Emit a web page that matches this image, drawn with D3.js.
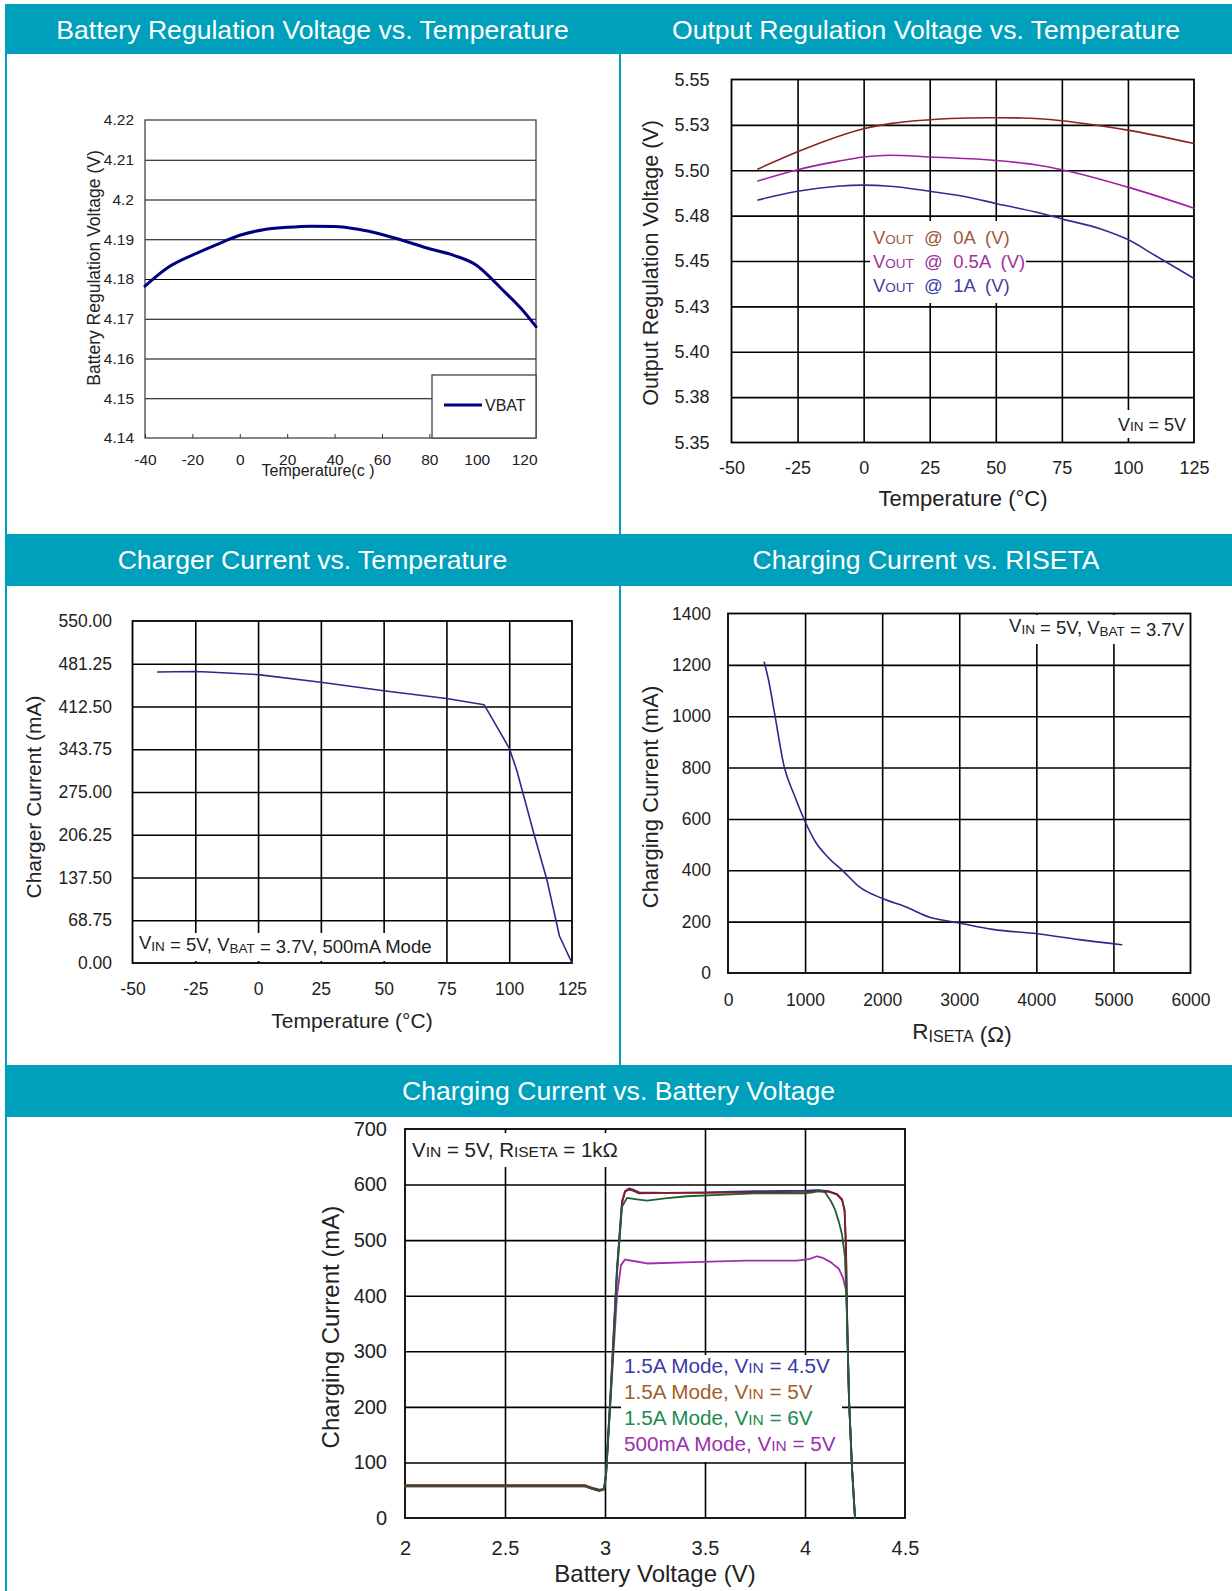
<!DOCTYPE html>
<html><head><meta charset="utf-8">
<script src="https://cdn.jsdelivr.net/npm/d3@7"></script>
<style>
body{margin:0;background:#fff}
svg{display:block}
text{font-family:"Liberation Sans",Arial,Helvetica,sans-serif}
</style>
</head><body>
<svg id="c" width="1232" height="1591"></svg>
<script>
// ---------- DATA ----------
// Chart 1: Battery Regulation Voltage vs Temperature
const c1Temp = [-40,-30,-20,-10,0,10,20,30,40,50,60,70,80,90,100,105,110,120,125];
const c1Vbat = [4.1782,4.1830,4.1860,4.1886,4.1910,4.1924,4.1930,4.1933,4.1932,4.1925,4.1912,4.1895,4.1876,4.1860,4.1834,4.1808,4.1778,4.1717,4.1680];
const c1YTicks = [4.14,4.15,4.16,4.17,4.18,4.19,4.2,4.21,4.22];
const c1YLabels = ["4.14","4.15","4.16","4.17","4.18","4.19","4.2","4.21","4.22"];
const c1XTicks = [-40,-20,0,20,40,60,80,100,120];

// Chart 2: Output Regulation Voltage vs Temperature
const c2Temp0 = [-40,-25,-15,0,10,25,40,50,60,75,90,100,125];
const c2V0A   = [5.5007,5.5102,5.5159,5.5229,5.5257,5.5278,5.5288,5.5289,5.5288,5.5273,5.5244,5.5221,5.5147];
const c2Temp5 = [-40,-25,-10,0,10,25,50,65,75,100,125];
const c2V05A  = [5.4941,5.5003,5.5049,5.5073,5.5083,5.5073,5.5054,5.5030,5.5003,5.4907,5.4791];
const c2Temp1 = [-40,-25,-10,0,10,25,40,50,65,75,90,100,110,125];
const c2V1A   = [5.4836,5.4884,5.4912,5.4918,5.4912,5.4884,5.4850,5.4817,5.4770,5.4732,5.4675,5.4618,5.4533,5.4404];
const c2YTicks = [5.35,5.375,5.4,5.425,5.45,5.475,5.5,5.525,5.55];
const c2YLabels = ["5.35","5.38","5.40","5.43","5.45","5.48","5.50","5.53","5.55"];
const tempTicks = [-50,-25,0,25,50,75,100,125];

// Chart 3: Charger Current vs Temperature
const c3Temp = [-40,-25,-20,0,25,50,75,90,100,103,110,115,120,125];
const c3Curr = [468,468.7,468.1,463.7,451.6,437.9,425.3,415.4,345.6,310,205.5,134,43.4,0];
const c3YTicks = [0,68.75,137.5,206.25,275,343.75,412.5,481.25,550];
const c3YLabels = ["0.00","68.75","137.50","206.25","275.00","343.75","412.50","481.25","550.00"];

// Chart 4: Charging Current vs RISETA
const c4R = [470,526,602,730,857,1000,1138,1300,1500,1700,2005,2311,2617,3000,3434,4010,4556,5107];
const c4I = [1210,1141,1015,802,695,590,509,450,395,336,290,257,217,195,170,153,130,110];
const c4XTicks = [0,1000,2000,3000,4000,5000,6000];
const c4YTicks = [0,200,400,600,800,1000,1200,1400];

// Chart 5: Charging Current vs Battery Voltage
const c5VBlue = [2.0,2.5,2.9,2.94,2.97,2.995,3.005,3.03,3.06,3.085,3.10,3.12,3.14,3.17,3.3,3.5,3.75,4.0,4.06,4.12,4.16,4.185,4.198,4.205,4.212,4.22,4.235,4.25];
const c5IBlue = [58,58,58,53,50,52,80,240,450,570,588,593,591,586,585,586,588,589,590,588,583,574,552,480,330,214,90,0];
const c5VRed  = [2.0,2.5,2.9,2.94,2.97,2.995,3.005,3.03,3.06,3.085,3.10,3.12,3.14,3.17,3.3,3.5,3.75,4.0,4.06,4.12,4.16,4.185,4.198,4.205,4.212,4.22,4.235,4.25];
const c5IRed  = [59,59,59,54,51,52,78,235,445,566,587,591,589,584,585,585,586,587,588,587,582,572,555,490,330,214,90,0];
const c5VGreen = [2.0,2.5,2.9,2.94,2.97,2.995,3.005,3.03,3.06,3.085,3.11,3.15,3.21,3.3,3.41,3.6,3.75,4.0,4.04,4.07,4.1,4.13,4.15,4.17,4.185,4.2,4.21,4.22,4.235,4.25];
const c5IGreen = [57,57,57,52,49,51,75,230,440,560,576,574,571,575,579,582,584,584,586,590,586,570,555,532,510,470,360,214,90,0];
const c5VPurple = [2.0,2.5,2.9,2.94,2.97,2.995,3.005,3.03,3.06,3.08,3.1,3.15,3.21,3.4,3.7,3.96,4.02,4.06,4.09,4.13,4.17,4.19,4.205,4.21,4.22,4.235,4.25];
const c5IPurple = [57,57,57,52,49,51,75,225,400,455,465,462,458,460,463,463,466,471,468,460,448,432,410,370,214,90,0];
const c5XTicks = [2,2.5,3,3.5,4,4.5];
const c5XLabels = ["2","2.5","3","3.5","4","4.5"];
const c5YTicks = [0,100,200,300,400,500,600,700];

const panelTitles = ["Battery Regulation Voltage vs. Temperature","Output Regulation Voltage vs. Temperature",
  "Charger Current vs. Temperature","Charging Current vs. RISETA","Charging Current vs. Battery Voltage"];

// ---------- LAYOUT ----------
const TEAL = "#009fbb";
const svg = d3.select("#c");
svg.append("rect").attr("width",1232).attr("height",1591).attr("fill","#fff");
// title bars
[[4,54],[534,586],[1065,1117]].forEach(([a,b])=>{
  svg.append("rect").attr("x",5).attr("y",a).attr("width",1227).attr("height",b-a).attr("fill",TEAL);
});
svg.append("rect").attr("x",5).attr("y",4).attr("width",2).attr("height",1587).attr("fill",TEAL);
svg.append("rect").attr("x",619).attr("y",54).attr("width",2).attr("height",1011).attr("fill",TEAL);

const titlePos = [[312.5,39],[926,39],[312.5,569],[926,569],[618.5,1100]];
panelTitles.forEach((t,i)=>{
  svg.append("text").attr("x",titlePos[i][0]).attr("y",titlePos[i][1]).attr("text-anchor","middle")
    .attr("fill","#fff").attr("font-size",26.6).text(t);
});

function richText(g, x, y, parts, opt){
  const t = g.append("text").attr("x",x).attr("y",y).attr("font-size",opt.fs)
    .attr("text-anchor",opt.anchor||"start").attr("fill",opt.fill||"#222");
  parts.forEach(p=>{
    if(typeof p === "string"){ t.append("tspan").text(p); }
    else {
      t.append("tspan").attr("font-size",p.fs).attr("dy",p.dy||0).text(p.t);
      if(p.dy) t.append("tspan").attr("dy",-p.dy).text("");
    }
  });
  return t;
}

function chart(o){
  const g = svg.append("g");
  const x = d3.scaleLinear().domain(o.xDomain).range([o.left,o.right]);
  const y = d3.scaleLinear().domain(o.yDomain).range([o.bottom,o.top]);
  const W = o.right-o.left, H = o.bottom-o.top;
  if(o.hGrid){
    g.append("g").attr("transform",`translate(${o.left},0)`)
      .call(d3.axisLeft(y).tickValues(o.hGrid).tickSize(-W).tickFormat(""))
      .call(a=>{a.select(".domain").remove(); a.selectAll("line").attr("stroke","#000").attr("stroke-width",o.gw);});
  }
  if(o.vGrid){
    g.append("g").attr("transform",`translate(0,${o.bottom})`)
      .call(d3.axisBottom(x).tickValues(o.vGrid).tickSize(-H).tickFormat(""))
      .call(a=>{a.select(".domain").remove(); a.selectAll("line").attr("stroke","#000").attr("stroke-width",o.gw);});
  }
  (o.boxes||[]).forEach(b=>g.append("rect").attr("x",b[0]).attr("y",b[1]).attr("width",b[2]-b[0]).attr("height",b[3]-b[1]).attr("fill","#fff"));
  g.append("rect").attr("x",o.left).attr("y",o.top).attr("width",W).attr("height",H)
    .attr("fill","none").attr("stroke",o.frameColor||"#000").attr("stroke-width",o.fw);
  // tick labels
  g.append("g").attr("transform",`translate(${o.left},0)`)
    .call(d3.axisLeft(y).tickValues(o.yTicks).tickSize(0).tickPadding(o.yPad).tickFormat((d,i)=>o.yLabels?o.yLabels[i]:d))
    .call(a=>{a.select(".domain").remove(); a.selectAll("text").attr("font-size",o.fs).attr("fill","#222").attr("font-family",null);});
  g.append("g").attr("transform",`translate(0,${o.bottom})`)
    .call(d3.axisBottom(x).tickValues(o.xTicks).tickSizeInner(o.xTickIn?-o.xTickIn:0).tickSizeOuter(0).tickPadding(o.xPad).tickFormat((d,i)=>o.xLabels?o.xLabels[i]:d))
    .call(a=>{a.select(".domain").remove(); a.selectAll("line").attr("stroke","#333");
      a.selectAll("text").attr("font-size",o.fs).attr("fill","#222").attr("font-family",null).attr("y", o.xPad);});
  // data lines
  (o.series||[]).forEach(s=>{
    const line = d3.line().x((d,i)=>x(s.xs[i])).y(d=>y(d)).curve(s.curve||d3.curveLinear);
    g.append("path").attr("d",line(s.ys)).attr("fill","none").attr("stroke",s.color).attr("stroke-width",s.w)
      .attr("stroke-linejoin","round").attr("stroke-linecap","round");
  });
  // axis titles
  g.append("text").attr("transform",`translate(${o.yTitle.x},${o.yTitle.y}) rotate(-90)`).attr("text-anchor","middle")
    .attr("dy","0.35em").attr("font-size",o.yTitle.fs).attr("fill","#222").text(o.yTitle.t);
  if(o.xTitle.parts){
    richText(g,o.xTitle.x,o.xTitle.y,o.xTitle.parts,{fs:o.xTitle.fs,anchor:"middle"});
  } else {
    g.append("text").attr("x",o.xTitle.x).attr("y",o.xTitle.y).attr("text-anchor","middle")
      .attr("font-size",o.xTitle.fs).attr("fill","#222").text(o.xTitle.t);
  }
  return {g,x,y};
}

// ---------- CHART 1 ----------
const ch1 = chart({
  left:145,right:536,top:120,bottom:438,
  xDomain:[-40,125], yDomain:[4.14,4.22],
  hGrid:c1YTicks.slice(1,-1), gw:1.2, fw:1.3, frameColor:"#444",
  yTicks:c1YTicks, yLabels:c1YLabels, xTicks:c1XTicks, xTickIn:4,
  fs:15.5, yPad:11, xPad:15.5,
  boxes:[],
  series:[{xs:c1Temp, ys:c1Vbat, color:"#000080", w:3, curve:d3.curveMonotoneX}],
  yTitle:{t:"Battery Regulation Voltage (V)", x:94, y:268, fs:17.5},
  xTitle:{t:"Temperature(c )", x:318, y:476, fs:16}
});
// legend box
ch1.g.append("rect").attr("x",432).attr("y",375).attr("width",104).attr("height",63).attr("fill","#fff").attr("stroke","#444").attr("stroke-width",1.3);
ch1.g.append("line").attr("x1",444).attr("x2",482).attr("y1",405).attr("y2",405).attr("stroke","#000080").attr("stroke-width",3);
ch1.g.append("text").attr("x",485).attr("y",411).attr("font-size",16).attr("fill","#222").text("VBAT");

// ---------- CHART 2 ----------
const ch2 = chart({
  left:731.5,right:1194,top:79.5,bottom:442.5,
  xDomain:[-50,125], yDomain:[5.35,5.55],
  hGrid:c2YTicks.slice(1,-1), vGrid:tempTicks.slice(1,-1), gw:1.6, fw:1.8,
  yTicks:c2YTicks, yLabels:c2YLabels, xTicks:tempTicks,
  fs:18, yPad:22, xPad:19.2,
  boxes:[[870,221,1026,303],[1106,410,1190,438]],
  series:[
    {xs:c2Temp0, ys:c2V0A, color:"#8b2323", w:1.6, curve:d3.curveMonotoneX},
    {xs:c2Temp5, ys:c2V05A, color:"#a0209f", w:1.6, curve:d3.curveMonotoneX},
    {xs:c2Temp1, ys:c2V1A, color:"#2e2e96", w:1.6, curve:d3.curveMonotoneX}
  ],
  yTitle:{t:"Output Regulation Voltage (V)", x:650, y:263, fs:21.5},
  xTitle:{t:"Temperature (°C)", x:963, y:506, fs:22}
});
richText(ch2.g,873,244,["V",{t:"OUT",fs:13.5},"  @  0A  (V)"],{fs:18.5,fill:"#9a5a3a"}).style("white-space","pre");
richText(ch2.g,873,268,["V",{t:"OUT",fs:13.5},"  @  0.5A  (V)"],{fs:18.5,fill:"#a030a0"}).style("white-space","pre");
richText(ch2.g,873,292,["V",{t:"OUT",fs:13.5},"  @  1A  (V)"],{fs:18.5,fill:"#3f3fa0"}).style("white-space","pre");
richText(ch2.g,1186,431,["V",{t:"IN",fs:13.5}," = 5V"],{fs:18,anchor:"end"});

// ---------- CHART 3 ----------
const ch3 = chart({
  left:132.5,right:572,top:621,bottom:963,
  xDomain:[-50,125], yDomain:[0,550],
  hGrid:c3YTicks.slice(1,-1), vGrid:tempTicks.slice(1,-1), gw:1.6, fw:1.8,
  yTicks:c3YTicks, yLabels:c3YLabels, xTicks:tempTicks,
  fs:17.5, yPad:20.5, xPad:19.5,
  boxes:[[134,933,434,961]],
  series:[{xs:c3Temp, ys:c3Curr, color:"#2a2a8a", w:1.6}],
  yTitle:{t:"Charger Current (mA)", x:33.6, y:797, fs:21},
  xTitle:{t:"Temperature (°C)", x:352, y:1028, fs:21}
});
richText(ch3.g,139,949,["V",{t:"IN",fs:13.5,dy:2}," = 5V, V",{t:"BAT",fs:13.5,dy:2}," = 3.7V, 500mA Mode"],{fs:18.5});

// ---------- CHART 4 ----------
const ch4 = chart({
  left:728,right:1190.5,top:613.5,bottom:973,
  xDomain:[0,6000], yDomain:[0,1400],
  hGrid:c4YTicks.slice(1,-1), vGrid:c4XTicks.slice(1,-1), gw:1.6, fw:1.8,
  yTicks:c4YTicks, xTicks:c4XTicks,
  fs:17.5, yPad:17, xPad:20.4,
  boxes:[[993,615,1188,644]],
  series:[{xs:c4R, ys:c4I, color:"#2a2a8a", w:1.6, curve:d3.curveMonotoneX}],
  yTitle:{t:"Charging Current (mA)", x:650.4, y:797, fs:22},
  xTitle:{parts:["R",{t:"ISETA",fs:16,dy:3}," (Ω)"], x:962, y:1039, fs:22.5}
});
richText(ch4.g,1184,632,["V",{t:"IN",fs:13.5,dy:2}," = 5V, V",{t:"BAT",fs:13.5,dy:2}," = 3.7V"],{fs:18.5,anchor:"end"});

// ---------- CHART 5 ----------
const ch5 = chart({
  left:405,right:905,top:1129,bottom:1518,
  xDomain:[2,4.5], yDomain:[0,700],
  hGrid:c5YTicks.slice(1,-1), vGrid:c5XTicks.slice(1,-1), gw:1.6, fw:1.8,
  yTicks:c5YTicks, xTicks:c5XTicks, xLabels:c5XLabels,
  fs:20, yPad:18, xPad:22.7,
  boxes:[[408,1133,620,1167],[621,1355,842,1462]],
  series:[
    {xs:c5VPurple, ys:c5IPurple, color:"#a02cb0", w:1.8},
    {xs:c5VBlue, ys:c5IBlue, color:"#2b2ba0", w:1.8},
    {xs:c5VRed, ys:c5IRed, color:"#8b1c1c", w:1.8},
    {xs:c5VGreen, ys:c5IGreen, color:"#1d5e35", w:1.8}
  ],
  yTitle:{t:"Charging Current (mA)", x:330.6, y:1327, fs:24},
  xTitle:{t:"Battery Voltage (V)", x:655, y:1582, fs:24}
});
richText(ch5.g,412,1157,["V",{t:"IN",fs:15.5}," = 5V, R",{t:"ISETA",fs:15.5}," = 1kΩ"],{fs:20.5});
const c5Legend = [
  ["1.5A Mode, V"," = 4.5V","#3a3aa8"],
  ["1.5A Mode, V"," = 5V","#a0602a"],
  ["1.5A Mode, V"," = 6V","#1a8a50"],
  ["500mA Mode, V"," = 5V","#9a30aa"]
];
c5Legend.forEach((d,i)=>{
  richText(ch5.g,624,1373+i*26,[d[0],{t:"IN",fs:15.5},d[1]],{fs:20.7,fill:d[2]});
});
</script>
</body></html>
